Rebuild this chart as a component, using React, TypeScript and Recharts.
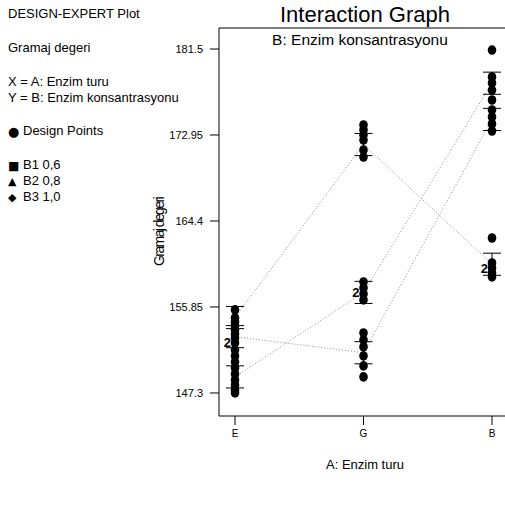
import { ComposedChart, Line, Scatter, XAxis, YAxis, ErrorBar, ReferenceLine } from "recharts"

// values
const categories = ["E", "G", "B"]
const yTicks = [147.3, 155.85, 164.4, 172.95, 181.5]
const yDomain = [145.01, 183.59]

const b1Means = [148.9, 157.3, 178.1]
const b2Means = [152.9, 151.3, 174.5]
const b3Means = [154.8, 172.0, 160.1]
const lsdHalf = 1.1

const pointsE = [
  155.56, 154.76, 154.36, 153.96, 153.57, 153.17, 152.77, 152.28, 151.58, 150.98, 150.39, 149.79, 149.19,
  148.6, 148.1, 147.6, 147.3,
]
const pointsG = [
  173.95, 173.45, 172.95, 172.45, 171.46, 170.76, 158.34, 157.74, 157.15, 156.55, 153.27, 152.57, 151.88,
  150.98, 149.99, 148.9,
]
const pointsB = [181.4, 178.72, 178.12, 177.42, 176.43, 175.44, 174.74, 174.05, 173.35, 162.71, 160.23, 159.73, 159.23, 158.84]

// points that hold two coincident runs ("2")
const pairLabels = [
  { x: 0, y: 152.4 },
  { x: 1, y: 157.3 },
  { x: 2, y: 159.7 },
]

const font = '"Liberation Sans", Arial, sans-serif'

const toSeries = (means: number[]) => means.map((y, i) => ({ x: i, y, err: lsdHalf }))

const designPoints = [
  ...pointsE.map((y) => ({ x: 0, y })),
  ...pointsG.map((y) => ({ x: 1, y })),
  ...pointsB.map((y) => ({ x: 2, y })),
]

const Dot = (props: any) => <ellipse cx={props.cx} cy={props.cy} rx={4.3} ry={4.8} fill="#000" />
const Empty = () => <g />
const PairLabel = (props: any) => (
  <text x={props.cx - 4} y={props.cy + 5} textAnchor="end" fontSize={13} fontWeight="bold" fontFamily={font} fill="#000">
    2
  </text>
)

const txt = (top: number, left: number, size: number, s: React.ReactNode) => (
  <div style={{ position: "absolute", top, left, fontSize: size, fontFamily: font, lineHeight: 1, whiteSpace: "nowrap" }}>{s}</div>
)

const glyph = (ch: string, size: number) => (
  <span style={{ display: "inline-block", width: 15, fontSize: size, fontFamily: "DejaVu Sans", verticalAlign: "middle", lineHeight: 1 }}>{ch}</span>
)

export default function App() {
  const series = [b1Means, b2Means, b3Means]
  return (
    <div style={{ position: "absolute", left: 0, top: 0, width: 505, height: 506, overflow: "hidden", background: "#fff" }}>
      <ComposedChart width={520} height={506} margin={{ top: 28, right: 12, left: 0, bottom: 60 }}>
        <XAxis
          dataKey="x"
          type="number"
          domain={[-0.1245, 2.1245]}
          ticks={[0, 1, 2]}
          tickFormatter={(v) => categories[v]}
          height={30}
          tickSize={9}
          tickMargin={5}
          tick={{ fill: "#000", fontSize: 10, fontFamily: font }}
          axisLine={{ stroke: "#000" }}
          tickLine={{ stroke: "#000" }}
          allowDataOverflow
        />
        <YAxis
          type="number"
          domain={yDomain}
          ticks={yTicks}
          width={219}
          tickSize={9}
          tickMargin={7}
          tick={{ fill: "#000", fontSize: 11, fontFamily: font }}
          axisLine={{ stroke: "#000" }}
          tickLine={{ stroke: "#000" }}
          allowDataOverflow
        />
        <ReferenceLine y={yDomain[1]} stroke="#000" />
        {series.map((m, i) => (
          <Line
            key={"l" + i}
            data={toSeries(m)}
            dataKey="y"
            stroke="#8a8a8a"
            strokeWidth={1}
            strokeDasharray="1 2"
            dot={false}
            activeDot={false}
            isAnimationActive={false}
          />
        ))}
        <Scatter data={designPoints} dataKey="y" shape={Dot} isAnimationActive={false} />
        {series.map((m, i) => (
          <Scatter key={"e" + i} data={toSeries(m)} dataKey="y" shape={Empty} isAnimationActive={false}>
            <ErrorBar dataKey="err" direction="y" width={9} stroke="#000" strokeWidth={1} isAnimationActive={false} />
          </Scatter>
        ))}
        <Scatter data={pairLabels} dataKey="y" shape={PairLabel} isAnimationActive={false} />
      </ComposedChart>

      {txt(7, 8, 13, "DESIGN-EXPERT Plot")}
      {txt(41, 8, 13, "Gramaj degeri")}
      {txt(75, 8, 13, "X = A: Enzim turu")}
      {txt(91, 8, 13, "Y = B: Enzim konsantrasyonu")}
      {txt(124, 8, 13, <>{glyph("\u25CF", 13)}Design Points</>)}
      {txt(158, 8, 13, <>{glyph("\u25A0", 12)}B1 0,6</>)}
      {txt(174, 8, 13, <>{glyph("\u25B2", 11)}B2 0,8</>)}
      {txt(190, 8, 13, <>{glyph("\u25C6", 11)}B3 1,0</>)}

      <div style={{ position: "absolute", top: 3, left: 265, width: 200, textAlign: "center", fontSize: 22, fontFamily: font, lineHeight: 1.1 }}>
        Interaction Graph
      </div>
      <div style={{ position: "absolute", top: 32, left: 255, width: 210, textAlign: "center", fontSize: 15.5, fontFamily: font, lineHeight: 1 }}>
        B: Enzim konsantrasyonu
      </div>
      <div
        style={{
          position: "absolute",
          top: 232,
          left: 159,
          transform: "translate(-50%, -50%) rotate(-90deg)",
          fontSize: 14,
          fontFamily: font,
          letterSpacing: -1.6,
          whiteSpace: "nowrap",
          lineHeight: 1,
        }}
      >
        Gramaj degeri
      </div>
      <div style={{ position: "absolute", top: 458, left: 265, width: 200, textAlign: "center", fontSize: 13, fontFamily: font, lineHeight: 1 }}>
        A: Enzim turu
      </div>
    </div>
  )
}
